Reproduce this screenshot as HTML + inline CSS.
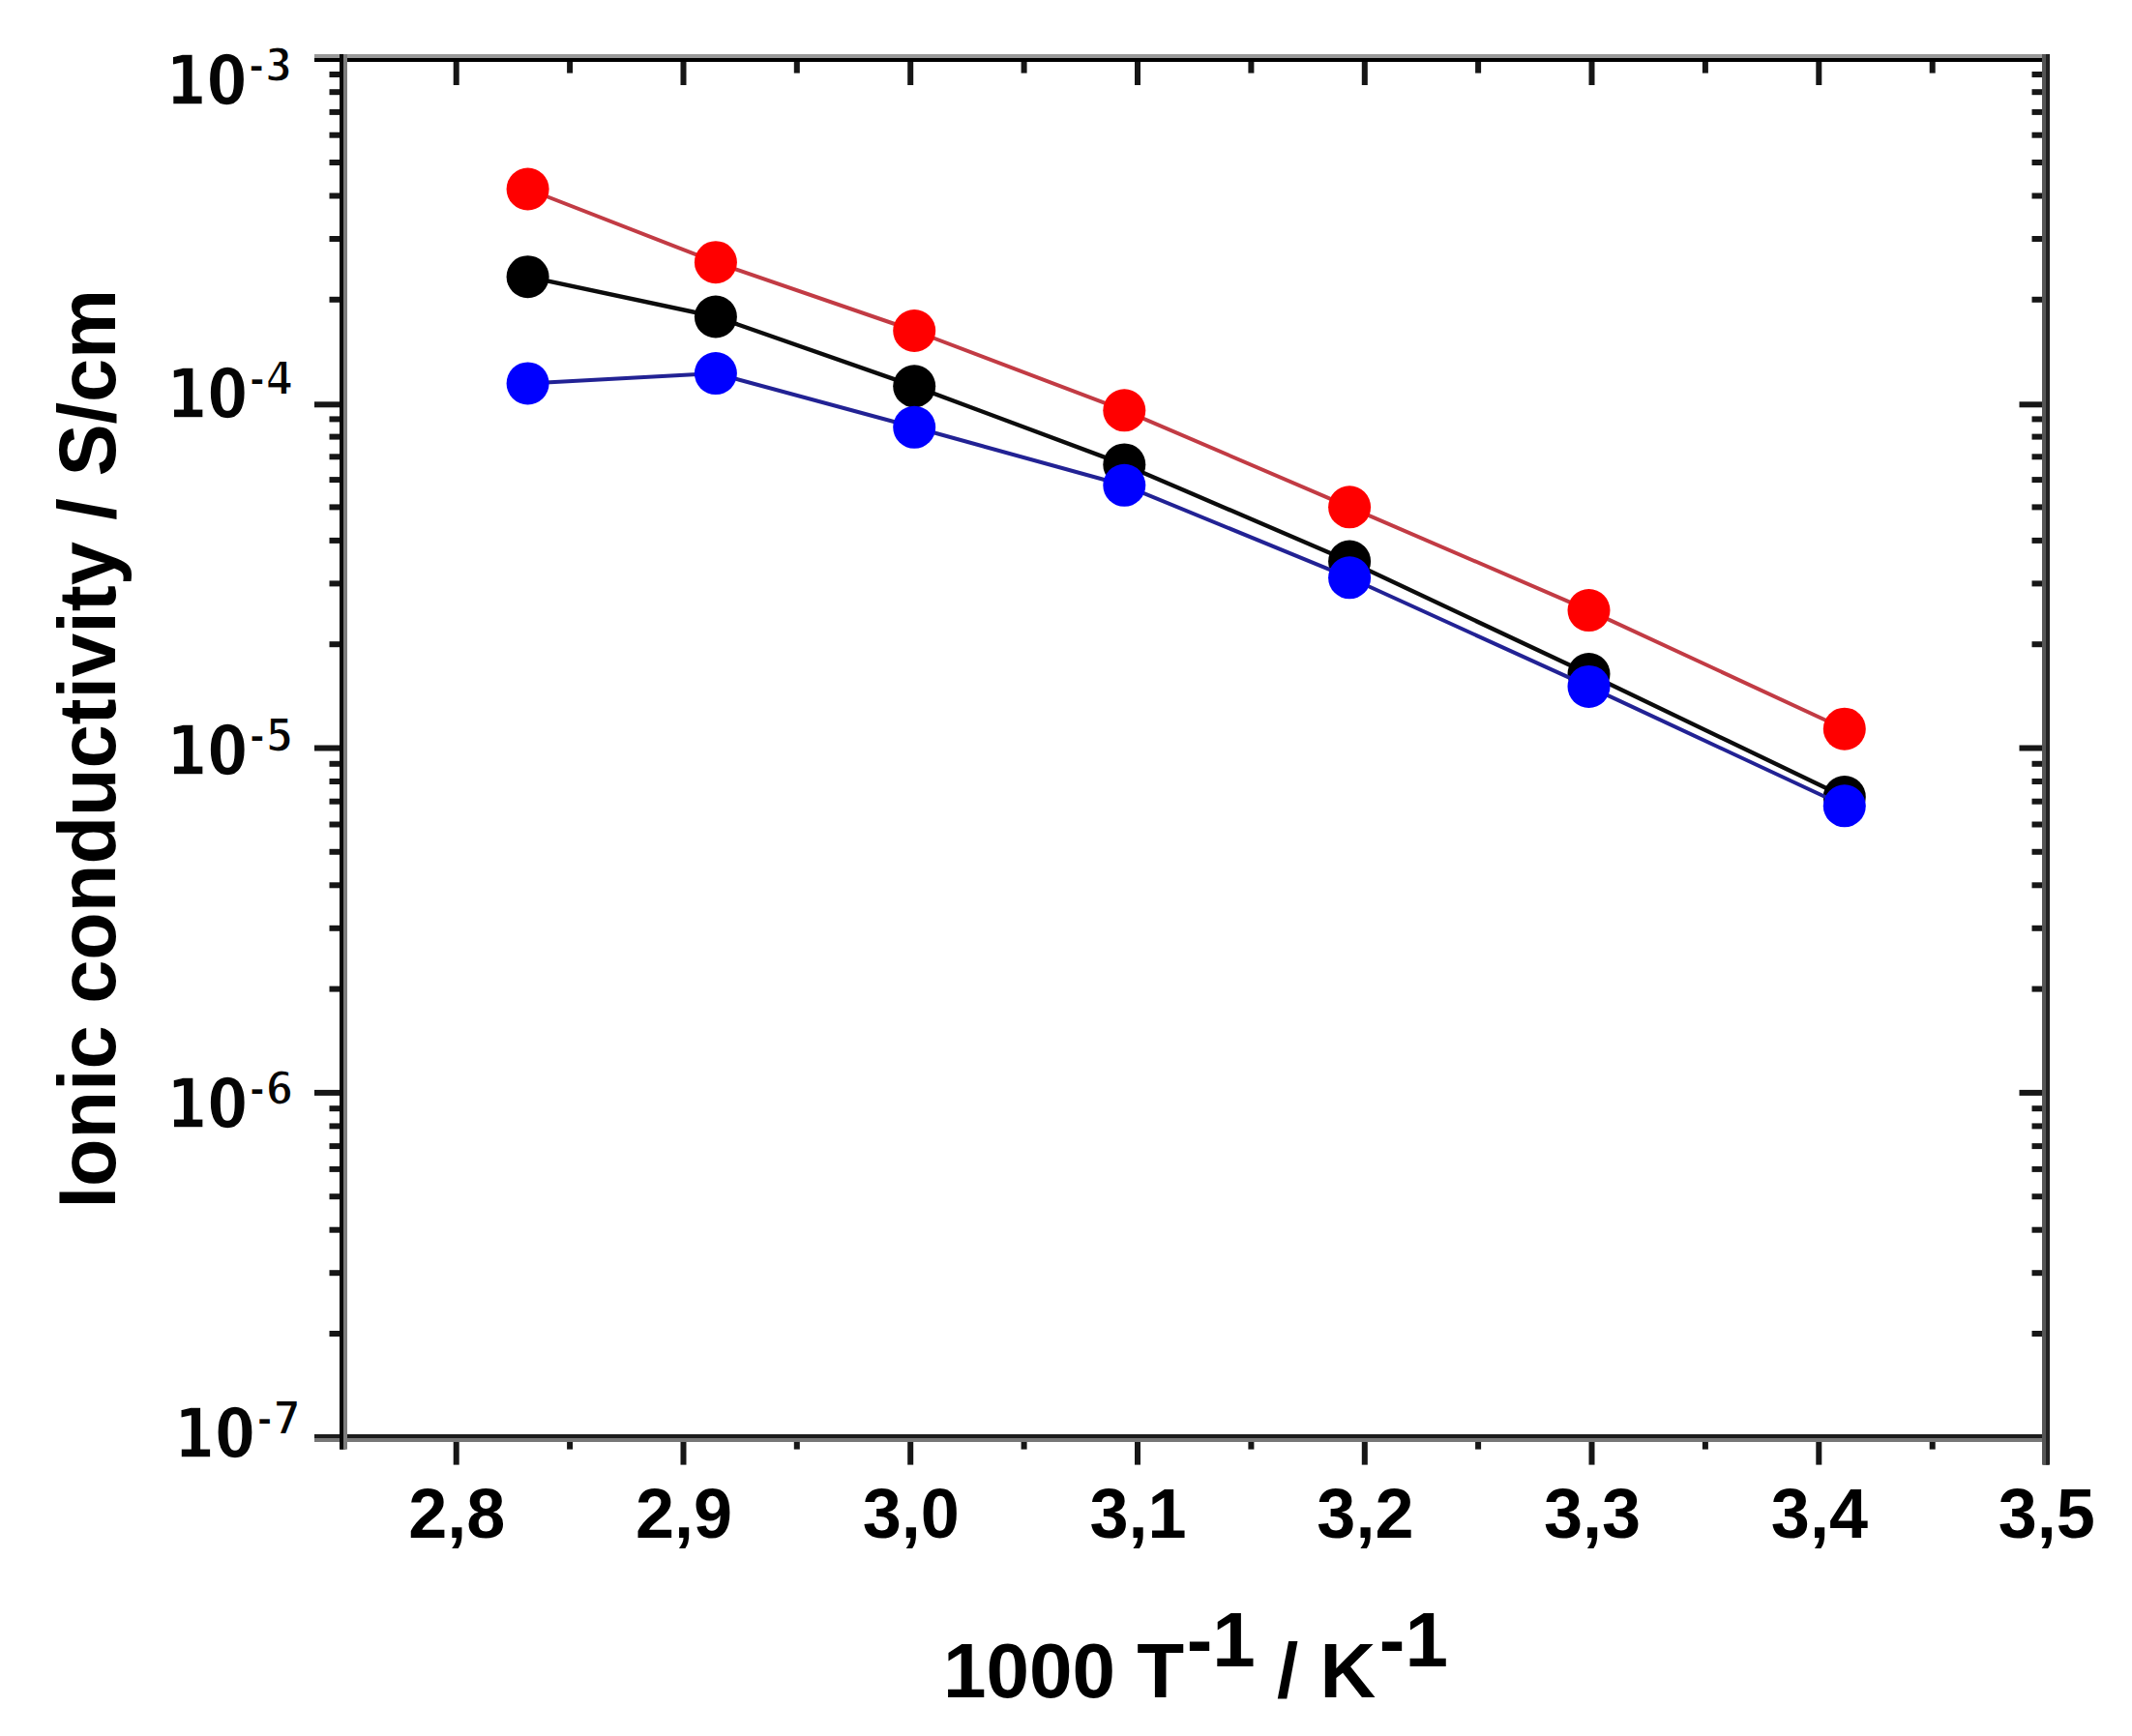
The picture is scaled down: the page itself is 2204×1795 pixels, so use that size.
<!DOCTYPE html>
<html><head><meta charset="utf-8"><title>Ionic conductivity vs 1000/T</title>
<style>html,body{margin:0;padding:0;background:#fff}svg{display:block}.t{font-family:"Liberation Sans",Arial,Helvetica,sans-serif;font-weight:700;fill:#000}.y{font-family:"DejaVu Sans","Liberation Sans",sans-serif;font-weight:700;fill:#050505;stroke:#fff;stroke-width:1.6px}.s{stroke-width:2.2px}</style></head><body>
<svg width="2204" height="1795" viewBox="0 0 2204 1795">
<rect width="2204" height="1795" fill="#fff"/>
<g stroke="#161616" stroke-width="6" fill="none">
<line x1="354.3" y1="1489" x2="354.3" y2="1498.6"/>
<line x1="354.3" y1="62" x2="354.3" y2="75.6"/>
<line x1="471.7" y1="1489" x2="471.7" y2="1514.6"/>
<line x1="471.7" y1="62" x2="471.7" y2="88"/>
<line x1="589.1" y1="1489" x2="589.1" y2="1498.6"/>
<line x1="589.1" y1="62" x2="589.1" y2="75.6"/>
<line x1="706.5" y1="1489" x2="706.5" y2="1514.6"/>
<line x1="706.5" y1="62" x2="706.5" y2="88"/>
<line x1="823.8" y1="1489" x2="823.8" y2="1498.6"/>
<line x1="823.8" y1="62" x2="823.8" y2="75.6"/>
<line x1="941.2" y1="1489" x2="941.2" y2="1514.6"/>
<line x1="941.2" y1="62" x2="941.2" y2="88"/>
<line x1="1058.6" y1="1489" x2="1058.6" y2="1498.6"/>
<line x1="1058.6" y1="62" x2="1058.6" y2="75.6"/>
<line x1="1176.0" y1="1489" x2="1176.0" y2="1514.6"/>
<line x1="1176.0" y1="62" x2="1176.0" y2="88"/>
<line x1="1293.4" y1="1489" x2="1293.4" y2="1498.6"/>
<line x1="1293.4" y1="62" x2="1293.4" y2="75.6"/>
<line x1="1410.8" y1="1489" x2="1410.8" y2="1514.6"/>
<line x1="1410.8" y1="62" x2="1410.8" y2="88"/>
<line x1="1528.1" y1="1489" x2="1528.1" y2="1498.6"/>
<line x1="1528.1" y1="62" x2="1528.1" y2="75.6"/>
<line x1="1645.5" y1="1489" x2="1645.5" y2="1514.6"/>
<line x1="1645.5" y1="62" x2="1645.5" y2="88"/>
<line x1="1762.9" y1="1489" x2="1762.9" y2="1498.6"/>
<line x1="1762.9" y1="62" x2="1762.9" y2="75.6"/>
<line x1="1880.3" y1="1489" x2="1880.3" y2="1514.6"/>
<line x1="1880.3" y1="62" x2="1880.3" y2="88"/>
<line x1="1997.7" y1="1489" x2="1997.7" y2="1498.6"/>
<line x1="1997.7" y1="62" x2="1997.7" y2="75.6"/>
<line x1="2115.1" y1="1489" x2="2115.1" y2="1514.6"/>
<line x1="2115.1" y1="62" x2="2115.1" y2="88"/>
<line x1="340.5" y1="309.8" x2="353" y2="309.8"/>
<line x1="2100.5" y1="309.8" x2="2113" y2="309.8"/>
<line x1="340.5" y1="247.0" x2="353" y2="247.0"/>
<line x1="2100.5" y1="247.0" x2="2113" y2="247.0"/>
<line x1="340.5" y1="202.5" x2="353" y2="202.5"/>
<line x1="2100.5" y1="202.5" x2="2113" y2="202.5"/>
<line x1="340.5" y1="168.0" x2="353" y2="168.0"/>
<line x1="2100.5" y1="168.0" x2="2113" y2="168.0"/>
<line x1="340.5" y1="139.7" x2="353" y2="139.7"/>
<line x1="2100.5" y1="139.7" x2="2113" y2="139.7"/>
<line x1="340.5" y1="115.9" x2="353" y2="115.9"/>
<line x1="2100.5" y1="115.9" x2="2113" y2="115.9"/>
<line x1="340.5" y1="95.2" x2="353" y2="95.2"/>
<line x1="2100.5" y1="95.2" x2="2113" y2="95.2"/>
<line x1="340.5" y1="77.0" x2="353" y2="77.0"/>
<line x1="2100.5" y1="77.0" x2="2113" y2="77.0"/>
<line x1="325" y1="418.3" x2="353" y2="418.3"/>
<line x1="2087.5" y1="418.3" x2="2113" y2="418.3"/>
<line x1="340.5" y1="666.2" x2="353" y2="666.2"/>
<line x1="2100.5" y1="666.2" x2="2113" y2="666.2"/>
<line x1="340.5" y1="603.4" x2="353" y2="603.4"/>
<line x1="2100.5" y1="603.4" x2="2113" y2="603.4"/>
<line x1="340.5" y1="558.9" x2="353" y2="558.9"/>
<line x1="2100.5" y1="558.9" x2="2113" y2="558.9"/>
<line x1="340.5" y1="524.4" x2="353" y2="524.4"/>
<line x1="2100.5" y1="524.4" x2="2113" y2="524.4"/>
<line x1="340.5" y1="496.1" x2="353" y2="496.1"/>
<line x1="2100.5" y1="496.1" x2="2113" y2="496.1"/>
<line x1="340.5" y1="472.3" x2="353" y2="472.3"/>
<line x1="2100.5" y1="472.3" x2="2113" y2="472.3"/>
<line x1="340.5" y1="451.6" x2="353" y2="451.6"/>
<line x1="2100.5" y1="451.6" x2="2113" y2="451.6"/>
<line x1="340.5" y1="433.4" x2="353" y2="433.4"/>
<line x1="2100.5" y1="433.4" x2="2113" y2="433.4"/>
<line x1="325" y1="773.5" x2="353" y2="773.5"/>
<line x1="2087.5" y1="773.5" x2="2113" y2="773.5"/>
<line x1="340.5" y1="1022.6" x2="353" y2="1022.6"/>
<line x1="2100.5" y1="1022.6" x2="2113" y2="1022.6"/>
<line x1="340.5" y1="959.8" x2="353" y2="959.8"/>
<line x1="2100.5" y1="959.8" x2="2113" y2="959.8"/>
<line x1="340.5" y1="915.3" x2="353" y2="915.3"/>
<line x1="2100.5" y1="915.3" x2="2113" y2="915.3"/>
<line x1="340.5" y1="880.8" x2="353" y2="880.8"/>
<line x1="2100.5" y1="880.8" x2="2113" y2="880.8"/>
<line x1="340.5" y1="852.5" x2="353" y2="852.5"/>
<line x1="2100.5" y1="852.5" x2="2113" y2="852.5"/>
<line x1="340.5" y1="828.7" x2="353" y2="828.7"/>
<line x1="2100.5" y1="828.7" x2="2113" y2="828.7"/>
<line x1="340.5" y1="808.0" x2="353" y2="808.0"/>
<line x1="2100.5" y1="808.0" x2="2113" y2="808.0"/>
<line x1="340.5" y1="789.8" x2="353" y2="789.8"/>
<line x1="2100.5" y1="789.8" x2="2113" y2="789.8"/>
<line x1="325" y1="1129.9" x2="353" y2="1129.9"/>
<line x1="2087.5" y1="1129.9" x2="2113" y2="1129.9"/>
<line x1="340.5" y1="1379.0" x2="353" y2="1379.0"/>
<line x1="2100.5" y1="1379.0" x2="2113" y2="1379.0"/>
<line x1="340.5" y1="1316.2" x2="353" y2="1316.2"/>
<line x1="2100.5" y1="1316.2" x2="2113" y2="1316.2"/>
<line x1="340.5" y1="1271.7" x2="353" y2="1271.7"/>
<line x1="2100.5" y1="1271.7" x2="2113" y2="1271.7"/>
<line x1="340.5" y1="1237.2" x2="353" y2="1237.2"/>
<line x1="2100.5" y1="1237.2" x2="2113" y2="1237.2"/>
<line x1="340.5" y1="1208.9" x2="353" y2="1208.9"/>
<line x1="2100.5" y1="1208.9" x2="2113" y2="1208.9"/>
<line x1="340.5" y1="1185.1" x2="353" y2="1185.1"/>
<line x1="2100.5" y1="1185.1" x2="2113" y2="1185.1"/>
<line x1="340.5" y1="1164.4" x2="353" y2="1164.4"/>
<line x1="2100.5" y1="1164.4" x2="2113" y2="1164.4"/>
<line x1="340.5" y1="1146.2" x2="353" y2="1146.2"/>
<line x1="2100.5" y1="1146.2" x2="2113" y2="1146.2"/>
</g>
<g>
<rect x="325" y="56" width="1794" height="4" fill="#999"/><rect x="325" y="60" width="1794" height="4" fill="#000"/>
<rect x="325" y="1483" width="1794" height="4" fill="#1c1c1c"/><rect x="325" y="1487" width="1794" height="4" fill="#777"/>
<rect x="351" y="56" width="4" height="1442.6" fill="#060606"/><rect x="355" y="56" width="4" height="1442.6" fill="#7d7d7d"/>
<rect x="2111" y="56" width="4" height="1458.6" fill="#555"/><rect x="2115" y="56" width="4" height="1458.6" fill="#222"/>
</g>
<g><polyline points="545.6,286.2 739.9,327.5 945.2,399.3 1162.3,480.4 1395.1,580.5 1642.5,697.0 1906.8,824.0" fill="none" stroke="#0c0c0c" stroke-width="4.4" stroke-linejoin="round"/>
<circle cx="545.6" cy="286.2" r="22" fill="#000"/>
<circle cx="739.9" cy="327.5" r="22" fill="#000"/>
<circle cx="945.2" cy="399.3" r="22" fill="#000"/>
<circle cx="1162.3" cy="480.4" r="22" fill="#000"/>
<circle cx="1395.1" cy="580.5" r="22" fill="#000"/>
<circle cx="1642.5" cy="697.0" r="22" fill="#000"/>
<circle cx="1906.8" cy="824.0" r="22" fill="#000"/>
</g>
<g><polyline points="545.6,195.5 739.9,271.2 945.2,342.0 1162.3,424.3 1395.1,524.3 1642.5,631.1 1906.8,753.7" fill="none" stroke="#c23b44" stroke-width="4" stroke-linejoin="round"/>
<circle cx="545.6" cy="195.5" r="22" fill="#ff0000"/>
<circle cx="739.9" cy="271.2" r="22" fill="#ff0000"/>
<circle cx="945.2" cy="342.0" r="22" fill="#ff0000"/>
<circle cx="1162.3" cy="424.3" r="22" fill="#ff0000"/>
<circle cx="1395.1" cy="524.3" r="22" fill="#ff0000"/>
<circle cx="1642.5" cy="631.1" r="22" fill="#ff0000"/>
<circle cx="1906.8" cy="753.7" r="22" fill="#ff0000"/>
</g>
<g><polyline points="545.6,396.4 739.9,386.1 945.2,441.8 1162.3,501.8 1395.1,597.3 1642.5,709.9 1906.8,833.3" fill="none" stroke="#222294" stroke-width="4" stroke-linejoin="round"/>
<circle cx="545.6" cy="396.4" r="22" fill="#0000ff"/>
<circle cx="739.9" cy="386.1" r="22" fill="#0000ff"/>
<circle cx="945.2" cy="441.8" r="22" fill="#0000ff"/>
<circle cx="1162.3" cy="501.8" r="22" fill="#0000ff"/>
<circle cx="1395.1" cy="597.3" r="22" fill="#0000ff"/>
<circle cx="1642.5" cy="709.9" r="22" fill="#0000ff"/>
<circle cx="1906.8" cy="833.3" r="22" fill="#0000ff"/>
</g>
<text class="t" x="472.3" y="1590.4" font-size="72" text-anchor="middle">2,8</text>
<text class="t" x="707.1" y="1590.4" font-size="72" text-anchor="middle">2,9</text>
<text class="t" x="941.8" y="1590.4" font-size="72" text-anchor="middle">3,0</text>
<text class="t" x="1176.6" y="1590.4" font-size="72" text-anchor="middle">3,1</text>
<text class="t" x="1411.4" y="1590.4" font-size="72" text-anchor="middle">3,2</text>
<text class="t" x="1646.1" y="1590.4" font-size="72" text-anchor="middle">3,3</text>
<text class="t" x="1880.9" y="1590.4" font-size="72" text-anchor="middle">3,4</text>
<text class="t" x="2115.7" y="1590.4" font-size="72" text-anchor="middle">3,5</text>
<text class="y" x="171.6" y="107.9" font-size="71.5" textLength="84" lengthAdjust="spacingAndGlyphs">10</text>
<text class="y s" x="256.6" y="83.6" font-size="48" textLength="46" lengthAdjust="spacingAndGlyphs">-3</text>
<text class="y" x="172.3" y="432.3" font-size="71.5" textLength="84" lengthAdjust="spacingAndGlyphs">10</text>
<text class="y s" x="257.3" y="408.0" font-size="48" textLength="46" lengthAdjust="spacingAndGlyphs">-4</text>
<text class="y" x="172.3" y="801.0" font-size="71.5" textLength="84" lengthAdjust="spacingAndGlyphs">10</text>
<text class="y s" x="257.3" y="776.7" font-size="48" textLength="46" lengthAdjust="spacingAndGlyphs">-5</text>
<text class="y" x="172.3" y="1165.8" font-size="71.5" textLength="84" lengthAdjust="spacingAndGlyphs">10</text>
<text class="y s" x="257.3" y="1141.5" font-size="48" textLength="46" lengthAdjust="spacingAndGlyphs">-6</text>
<text class="y" x="180.1" y="1507.0" font-size="71.5" textLength="84" lengthAdjust="spacingAndGlyphs">10</text>
<text class="y s" x="265.1" y="1482.7" font-size="48" textLength="46" lengthAdjust="spacingAndGlyphs">-7</text>
<text class="t" x="975" y="1755" font-size="80">1000 T<tspan dx="7" dy="-32.5">-1</tspan><tspan dy="32.5"> / K</tspan><tspan dx="3.5" dy="-32.5">-1</tspan></text>
<text class="t" font-size="81.1" textLength="950.75" lengthAdjust="spacing" transform="translate(118.7 1249.5) rotate(-90) scale(1 1.036)">Ionic conductivity / S/cm</text>
</svg></body></html>
